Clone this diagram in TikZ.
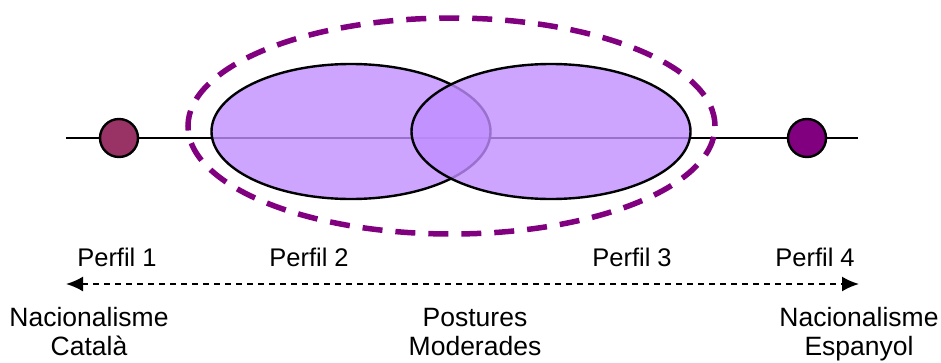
\documentclass[tikz,border=0pt]{standalone}
\usepackage{fontspec}
\setmainfont{Liberation Sans}
\usetikzlibrary{shapes.geometric,arrows.meta}
\definecolor{lilac}{RGB}{192,142,255}
\definecolor{plumA}{RGB}{153,51,102}
\definecolor{plumB}{RGB}{128,0,128}
\definecolor{dashpurple}{RGB}{128,0,128}
\tikzset{
  blob/.style={ellipse, draw=black, line width=2.4pt, fill=lilac, fill opacity=0.8, draw opacity=1, inner sep=0pt, minimum width=279pt, minimum height=135pt},
  group/.style={ellipse, draw=dashpurple, line width=5.5pt, dash pattern=on 20pt off 13pt, inner sep=0pt, minimum width=527pt, minimum height=216pt},
  dot/.style={circle, draw=black, line width=2.4pt, inner sep=0pt, minimum size=38pt},
  lbl/.style={font=\fontsize{25.5}{30}\selectfont, anchor=base, inner sep=0pt},
  lbl2/.style={font=\fontsize{26.5}{29}\selectfont, align=center, anchor=base, inner sep=0pt},
}
\begin{document}
\begin{tikzpicture}[x=1pt,y=1pt]
\useasboundingbox (0,0) rectangle (941,-362);
\coordinate (ls) at (66,-138);
\coordinate (le) at (858,-138);
\draw[line width=2pt] (ls) -- (le);
\node[blob] (e1) at (351,-131.5) {};
\node[blob] (e2) at (551,-131.5) {};
\node[group] (g) at (451.5,-126) {};
\node[dot, fill=plumA] (c1) at (119,-138) {};
\node[dot, fill=plumB] (c4) at (807,-138) {};
\node[lbl] (p1) at (117,-266) {Perfil 1};
\node[lbl] (p2) at (309,-266) {Perfil 2};
\node[lbl] (p3) at (632,-266) {Perfil 3};
\node[lbl] (p4) at (815,-266) {Perfil 4};
\coordinate (as) at (66,-284);
\coordinate (ae) at (859,-284);
\draw[line width=2pt, dash pattern=on 6pt off 5pt, {Latex[length=17pt,width=15pt]}-{Latex[length=17pt,width=15pt]}] (as) -- (ae);
\node[lbl2] (n1) at (89,-355) {Nacionalisme\\Català};
\node[lbl2] (n2) at (475,-355) {Postures\\Moderades};
\node[lbl2] (n3) at (859,-355) {Nacionalisme\\Espanyol};
\end{tikzpicture}
\end{document}
